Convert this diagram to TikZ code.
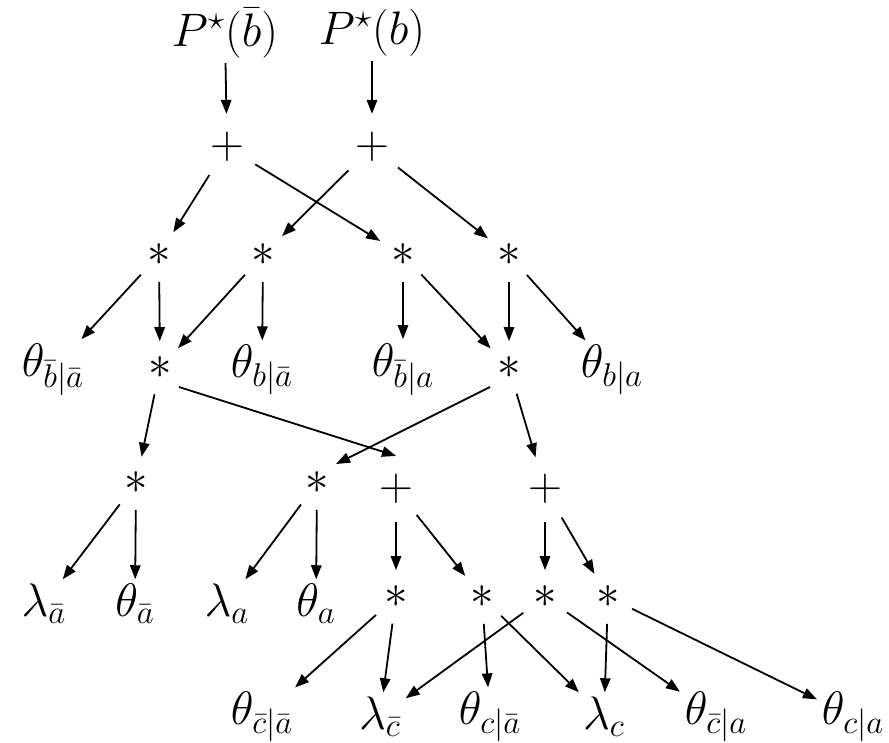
\documentclass[tikz,border=0pt]{standalone}
\usepackage{fix-cm}
\usetikzlibrary{arrows.meta}
\begin{document}
\begin{tikzpicture}[x=0.5pt,y=-0.5pt,
    every node/.style={font=\fontsize{23.5}{27}\selectfont},
    gate/.style={circle,inner sep=3.5pt},
    leaf/.style={inner sep=2pt},
    >={Triangle[length=7pt,width=5.2pt]},
    every path/.style={line width=0.9pt}]
                \useasboundingbox (0,0) rectangle (889,743);
                \node[leaf] (pbbar) at (225,33) {$P^\star(\bar b)$};
                \node[leaf] (pb) at (372,33) {$P^\star(b)$};
                \node[gate] (sumbbar) at (227,147) {$+$};
                \node[gate] (sumb) at (372,147) {$+$};
                \node[gate] (mula) at (159,255) {$\ast$};
                \node[gate] (mulb) at (263,255) {$\ast$};
                \node[gate] (mulc) at (403,255) {$\ast$};
                \node[gate] (muld) at (509,255) {$\ast$};
                \node[leaf] (thbbarabar) at (53,370) {$\theta_{\bar b|\bar a}$};
                \node[gate] (mule) at (160,368) {$\ast$};
                \node[leaf] (thbabar) at (262,370) {$\theta_{b|\bar a}$};
                \node[leaf] (thbbara) at (403,370) {$\theta_{\bar b|a}$};
                \node[gate] (mulf) at (509,368) {$\ast$};
                \node[leaf] (thba) at (612,370) {$\theta_{b|a}$};
                \node[gate] (mulg) at (136,483) {$\ast$};
                \node[gate] (mulh) at (317,483) {$\ast$};
                \node[gate] (sumcabar) at (396,489) {$+$};
                \node[gate] (sumca) at (545,489) {$+$};
                \node[leaf] (lamabar) at (44,604) {$\lambda_{\bar a}$};
                \node[leaf] (thabar) at (135,604) {$\theta_{\bar a}$};
                \node[leaf] (lama) at (227,604) {$\lambda_a$};
                \node[leaf] (tha) at (316,604) {$\theta_a$};
                \node[gate] (muli) at (396,597) {$\ast$};
                \node[gate] (mulj) at (482,597) {$\ast$};
                \node[gate] (mulk) at (545,597) {$\ast$};
                \node[gate] (mull) at (608,597) {$\ast$};
                \node[leaf] (thcbarabar) at (262,717) {$\theta_{\bar c|\bar a}$};
                \node[leaf] (lamcbar) at (380,717) {$\lambda_{\bar c}$};
                \node[leaf] (thcabar) at (490,717) {$\theta_{c|\bar a}$};
                \node[leaf] (lamc) at (604,717) {$\lambda_c$};
                \node[leaf] (thcbara) at (716,717) {$\theta_{\bar c|a}$};
                \node[leaf] (thca) at (853,717) {$\theta_{c|a}$};
                \draw[->] (pbbar) -- (sumbbar);
                \draw[->] (pb) -- (sumb);
                \draw[->] (sumbbar) -- (mula);
                \draw[->] (sumbbar) -- (mulc);
                \draw[->] (sumb) -- (mulb);
                \draw[->] (sumb) -- (muld);
                \draw[->] (mula) -- (thbbarabar);
                \draw[->] (mula) -- (mule);
                \draw[->] (mulb) -- (mule);
                \draw[->] (mulb) -- (thbabar);
                \draw[->] (mulc) -- (thbbara);
                \draw[->] (mulc) -- (mulf);
                \draw[->] (muld) -- (mulf);
                \draw[->] (muld) -- (thba);
                \draw[->] (mule) -- (mulg);
                \draw[->] (mule.south east) -- (sumcabar.north);
                \draw[->] (mulf.south west) -- (mulh.north east);
                \draw[->] (mulf) -- (sumca);
                \draw[->] (mulg) -- (lamabar);
                \draw[->] (mulg) -- (thabar);
                \draw[->] (mulh) -- (lama);
                \draw[->] (mulh) -- (tha);
                \draw[->] (sumcabar) -- (muli);
                \draw[->] (sumcabar) -- (mulj);
                \draw[->] (sumca) -- (mulk);
                \draw[->] (sumca) -- (mull);
                \draw[->] (muli) -- (thcbarabar);
                \draw[->] (muli) -- (lamcbar);
                \draw[->] (mulj) -- (thcabar);
                \draw[->] (mulj) -- (lamc);
                \draw[->] (mulk) -- (lamcbar);
                \draw[->] (mulk) -- (thcbara);
                \draw[->] (mull) -- (lamc);
                \draw[->] (mull) -- (thca);
            \end{tikzpicture}
\end{document}
